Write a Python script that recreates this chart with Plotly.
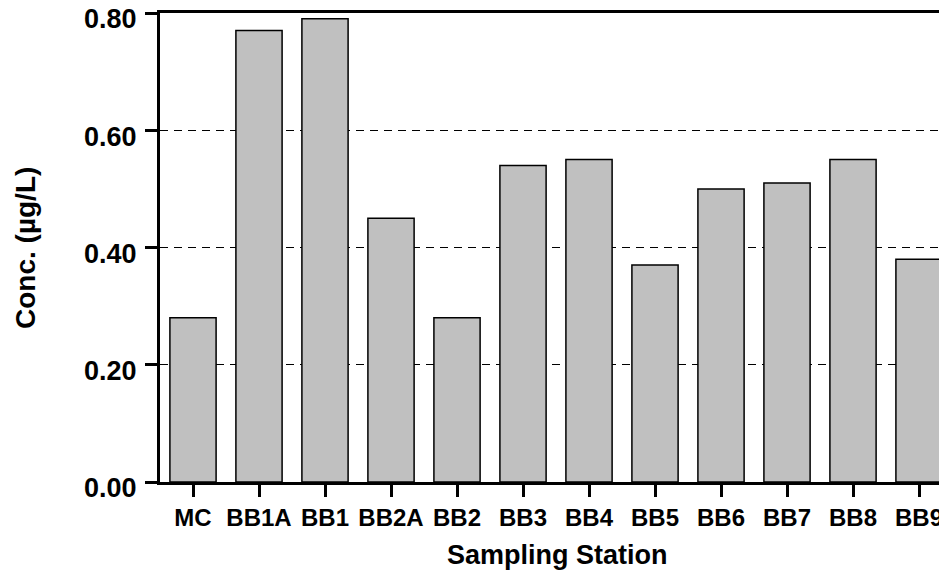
import plotly.graph_objects as go

stations = ["MC", "BB1A", "BB1", "BB2A", "BB2", "BB3", "BB4", "BB5", "BB6", "BB7", "BB8", "BB9"]
conc = [0.28, 0.77, 0.79, 0.45, 0.28, 0.54, 0.55, 0.37, 0.50, 0.51, 0.55, 0.38]
y_ticks = [0.0, 0.2, 0.4, 0.6, 0.8]
y_tick_labels = ["0.00", "0.20", "0.40", "0.60", "0.80"]

FONT = "Liberation Sans, Arial, sans-serif"

# the page body has an 8px default margin; size the figure so it fills the window
PAD = 8
W, H = 947 - PAD, 586 - PAD
L, R, T, B = 160 - PAD, 0, 13 - PAD, 104
plot_w = W - L - R
plot_h = H - T - B

fig = go.Figure()
fig.add_trace(go.Bar(
    x=stations, y=conc,
    marker=dict(color="#c0c0c0", line=dict(color="#000000", width=1.5)),
))

fig.update_layout(
    width=W, height=H,
    margin=dict(l=L, r=R, t=T, b=B, autoexpand=False),
    paper_bgcolor="white", plot_bgcolor="white",
    bargap=0.30,
    showlegend=False,
    font=dict(family=FONT, color="black"),
)

fig.update_xaxes(
    range=[-0.5, 11.424], automargin=False,
    showline=True, linecolor="black", linewidth=3, mirror=True,
    ticks="outside", ticklen=12, tickwidth=3, tickcolor="black",
    tickfont=dict(family=FONT, size=24, color="black", weight="bold"),
    ticklabeloverflow="allow",
    showgrid=False, zeroline=False,
)
fig.update_yaxes(
    range=[0, 0.8], automargin=False,
    tickvals=y_ticks, ticktext=y_tick_labels,
    showline=True, linecolor="black", linewidth=3, mirror=False,
    ticks="outside", ticklen=12, tickwidth=3, tickcolor="black",
    tickfont=dict(family=FONT, size=27, color="black", weight="bold"),
    ticklabelshift=6, ticklabelstandoff=3, ticklabeloverflow="allow",
    showgrid=True, gridcolor="black", gridwidth=1, griddash="8px,6px",
    zeroline=False,
)

# axis titles placed by reference pixel positions (window coords)
fig.add_annotation(
    text="Sampling Station",
    x=(557 - 160) / plot_w, y=-(555 - 482) / plot_h,
    xref="paper", yref="paper", xanchor="center", yanchor="middle",
    showarrow=False,
    font=dict(family=FONT, size=27, color="black", weight="bold"),
)
fig.add_annotation(
    text="Conc. (µg/L)",
    x=(25 - 160) / plot_w, y=(482 - 248) / plot_h,
    xref="paper", yref="paper", xanchor="center", yanchor="middle",
    showarrow=False, textangle=-90,
    font=dict(family=FONT, size=28, color="black", weight="bold"),
)

fig.write_html("out.html")
